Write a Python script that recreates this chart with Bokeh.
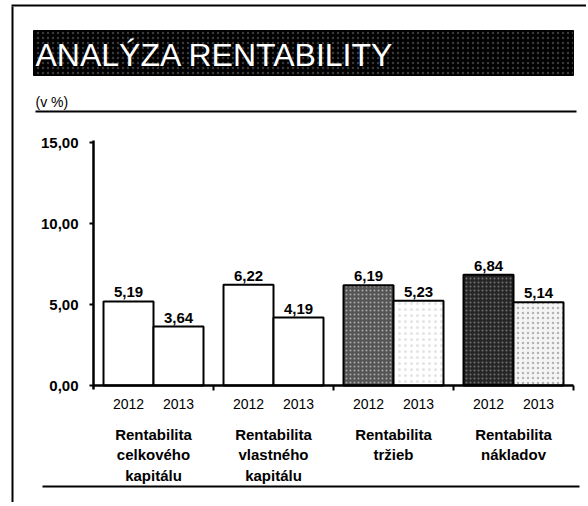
from bokeh.plotting import figure
from bokeh.models import Range1d, ColumnDataSource
from bokeh.embed import file_html
from bokeh.resources import INLINE
from bokeh.core.properties import value

# ---- data ----
title_text = "ANALÝZA RENTABILITY"
unit_text = "(v %)"
categories = ["Rentabilita\ncelkového\nkapitálu", "Rentabilita\nvlastného\nkapitálu",
              "Rentabilita\ntržieb", "Rentabilita\nnákladov"]
years = ["2012", "2013"]
v2012 = [5.19, 6.22, 6.19, 6.84]
v2013 = [3.64, 4.19, 5.23, 5.14]
y_ticks = [0, 5, 10, 15]

# ---- layout (canvas pixels -> data units) ----
W, H = 586, 502
PX, PY = 50.0, 16.2          # px per x-unit (one bar), px per percentage point
X0, Y0 = 93.0, 385.0         # canvas position of x=0 / value 0
CELL, PAD = 2.4, 0.2         # group cell width and inner padding (bar units)
FONT = "Liberation Sans"

def dx(cx):
    return (cx - X0) / PX

def dy(cy):
    return (Y0 - cy) / PY

p = figure(width=W, height=H, output_backend="svg", toolbar_location=None,
           x_range=Range1d(dx(0), dx(W)), y_range=Range1d(dy(H), dy(0)),
           x_axis_location=None, y_axis_location=None, min_border=0)
p.outline_line_color = None
p.grid.grid_line_color = None
p.background_fill_color = "white"
p.border_fill_color = "white"

# ---- bars ----
series = [v2012, v2013]
fills = [["white", "white", "#555555", "#262626"],
         ["white", "white", "white", "#f4f4f4"]]
hatch_c = [["white", "white", "#a8a8a8", "#707070"],
           ["white", "white", "#e4e4e4", "#b4b4b4"]]
hatch_s = [[1, 1, 4, 4], [1, 1, 6, 5]]
for yi, vals in enumerate(series):
    xs = [g * CELL + PAD + yi + 0.5 for g in range(len(vals))]
    src = ColumnDataSource(dict(x=xs, top=vals, fill=fills[yi], hc=hatch_c[yi],
                                hs=hatch_s[yi],
                                lab=[f"{v:.2f}".replace(".", ",") for v in vals],
                                yr=[years[yi]] * len(vals)))
    p.vbar(x="x", top="top", bottom=0, width=1.0, source=src,
           fill_color="fill", line_color="black", line_width=2,
           hatch_pattern="dot", hatch_color="hc", hatch_scale="hs")
    p.text(x="x", y="top", text="lab", source=src, text_align="center",
           text_baseline="alphabetic", y_offset=-9, text_font=value(FONT),
           text_font_style="bold", text_font_size="15px", text_color="black")
    p.text(x="x", y=dy(403), text="yr", source=src, text_align="center",
           text_baseline="middle", text_font=value(FONT),
           text_font_size="14px", text_color="black")

# ---- axes (drawn on the plot's scales) ----
ncat = len(categories)
x_end = ncat * CELL
p.segment(x0=[0], y0=[0], x1=[x_end], y1=[0], line_color="black", line_width=2.5)
p.segment(x0=[0], y0=[dy(Y0 + 4)], x1=[0], y1=[dy(140)], line_color="black", line_width=2.5)
p.segment(x0=[dx(X0 - 4)] * len(y_ticks), y0=y_ticks, x1=[0] * len(y_ticks), y1=y_ticks,
          line_color="black", line_width=2)
seps = [(g + 1) * CELL for g in range(ncat)]
p.segment(x0=seps, y0=[0] * ncat, x1=seps, y1=[dy(Y0 + 5)] * ncat,
          line_color="black", line_width=2)
p.text(x=[dx(78)] * len(y_ticks), y=y_ticks,
       text=[f"{t:.2f}".replace(".", ",") for t in y_ticks],
       text_align="right", text_baseline="middle", text_font=value(FONT),
       text_font_style="bold", text_font_size="15px", text_color="black")

# category labels
p.text(x=[g * CELL + CELL / 2 for g in range(ncat)], y=[dy(425)] * ncat, text=categories,
       text_align="center", text_baseline="top", text_line_height=1.22,
       text_font=value(FONT), text_font_style="bold", text_font_size="15px",
       text_color="black")

# ---- frame decorations ----
p.quad(left=[dx(33)], right=[dx(573)], top=[dy(30)], bottom=[dy(75)],
       fill_color="black", line_color="black",
       hatch_pattern="dot", hatch_color="#3a3a3a", hatch_scale=5)
p.text(x=[dx(35)], y=[dy(54)], text=[title_text], text_baseline="middle",
       text_font=value(FONT), text_font_size="32px", text_color="white")
p.text(x=[dx(35)], y=[dy(101)], text=[unit_text], text_baseline="middle",
       text_font=value(FONT), text_font_size="14px", text_color="black")
p.segment(x0=[dx(35)], y0=[dy(111)], x1=[dx(576)], y1=[dy(111)],
          line_color="black", line_width=2)
p.segment(x0=[dx(42)], y0=[dy(486)], x1=[dx(579)], y1=[dy(486)],
          line_color="black", line_width=2)
p.segment(x0=[dx(12)], y0=[dy(6)], x1=[dx(12)], y1=[dy(H)],
          line_color="black", line_width=2)
p.segment(x0=[dx(11)], y0=[dy(5)], x1=[dx(W)], y1=[dy(5)],
          line_color="black", line_width=2)

open("out.html", "w").write(file_html(p, INLINE))
